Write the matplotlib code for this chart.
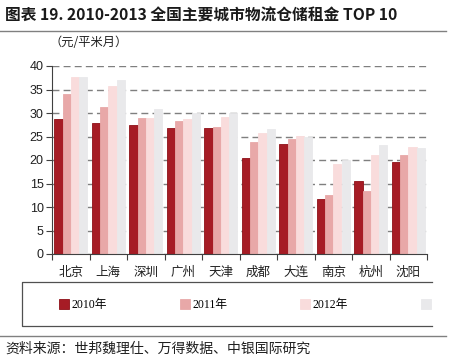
import numpy as np
import matplotlib
matplotlib.use('Agg')
import matplotlib.pyplot as plt
from matplotlib.lines import Line2D
from matplotlib.patches import Rectangle

plt.rcParams['font.family'] = ['Noto Sans CJK SC', 'DejaVu Sans']

# data (元/平米月)
cities = ['北京', '上海', '深圳', '广州', '天津', '成都', '大连', '南京', '杭州', '沈阳']
years = ['2010年', '2011年', '2012年', '2013年']
rent_2010 = [28.7, 27.8, 27.4, 26.8, 26.8, 20.4, 23.4, 11.8, 15.5, 19.5]
rent_2011 = [34.0, 31.2, 28.9, 28.3, 27.0, 23.8, 24.4, 12.5, 13.4, 21.0]
rent_2012 = [37.6, 35.7, 28.9, 28.7, 29.2, 25.7, 25.2, 19.2, 21.0, 22.8]
rent_2013 = [37.6, 37.0, 30.9, 30.0, 29.9, 26.5, 24.8, 19.9, 23.1, 22.6]
series = [rent_2010, rent_2011, rent_2012, rent_2013]
colors = ['#A61C25', '#E8A8A8', '#F9DCDC', '#E9E9EB']
edges = ['#8E1018', '#E8A8A8', '#F9DCDC', '#E9E9EB']

W, H = 450, 360
fig = plt.figure(figsize=(4.5, 3.6), dpi=100)

def fx(px):
    return px / W

def fy(py):
    return 1 - py / H

ax = fig.add_axes([fx(52), fy(254), fx(427) - fx(52), (254 - 66) / H])

x = np.arange(len(cities))
bw = 0.22
bars = []
for i, vals in enumerate(series):
    b = ax.bar(x - 0.5 + 0.06 + bw * (i + 0.5), vals, bw, color=colors[i],
               edgecolor=edges[i], linewidth=0.6, zorder=2)
    bars.append(b)

ax.set_xlim(-0.5, len(cities) - 0.5)
ax.set_ylim(0, 40)
ax.set_yticks(range(0, 41, 5))
ax.yaxis.grid(True, linestyle=(0, (5, 3)), color='#7f7f7f', linewidth=1.0, zorder=0)
ax.set_axisbelow(True)

for s in ['top', 'right']:
    ax.spines[s].set_visible(False)
ax.spines['left'].set_color('#404040')
ax.spines['bottom'].set_color('#404040')

ax.set_xticks(np.arange(-0.5, len(cities), 1.0))
ax.set_xticklabels([])
ax.tick_params(axis='x', length=4, color='#404040', direction='out')
ax.tick_params(axis='y', length=4, color='#404040', direction='out', pad=2)
for lab in ax.get_yticklabels():
    lab.set_fontfamily(['Liberation Sans', 'DejaVu Sans'])
    lab.set_fontsize(9)
    lab.set_color('#202020')

for i, c in enumerate(cities):
    ax.text(i, -2.5, c, ha='center', va='top', fontsize=9, color='#202020')

# title and unit
fig.text(fx(5), fy(16), '图表 19. 2010-2013 全国主要城市物流仓储租金 TOP 10',
         fontsize=11.3, fontweight='bold', va='center', ha='left', color='#1a1a1a')
fig.add_artist(Line2D([0, fx(446)], [fy(31), fy(31)], color='#808080', linewidth=1))
fig.text(fx(50), fy(43), '（元/平米月）', fontsize=8.8, va='center', ha='left', color='#202020')

# legend box, cut at the right like the source image (no right edge)
box_l, box_r, box_t, box_b = 22, 432, 282, 326
leg = fig.legend([b[0] for b in bars], years, ncol=4, loc='center left',
                 bbox_to_anchor=(fx(48), fy(305)), frameon=False,
                 handlelength=0.85, handleheight=0.85, handletextpad=0.2,
                 columnspacing=6.2,
                 prop={'family': ['Liberation Serif', 'Noto Sans CJK SC'], 'size': 8.5})
# the source picture is cropped here, hiding the last legend label
fig.add_artist(Rectangle((fx(box_r + 0.5), fy(box_b - 1)), 1 - fx(box_r + 0.5),
                         (box_b - box_t - 2) / H, facecolor='white',
                         edgecolor='none', zorder=6))
fig.add_artist(Line2D([fx(box_r), fx(box_l), fx(box_l), fx(box_r)],
                      [fy(box_t), fy(box_t), fy(box_b), fy(box_b)],
                      color='#505050', linewidth=0.9, zorder=7))

fig.add_artist(Line2D([0, fx(446)], [fy(336), fy(336)], color='#808080', linewidth=1))
fig.text(fx(5), fy(349), '资料来源：世邦魏理仕、万得数据、中银国际研究',
         fontsize=10, va='center', ha='left', color='#202020', style='italic')

fig.savefig('out.png', dpi=100)
